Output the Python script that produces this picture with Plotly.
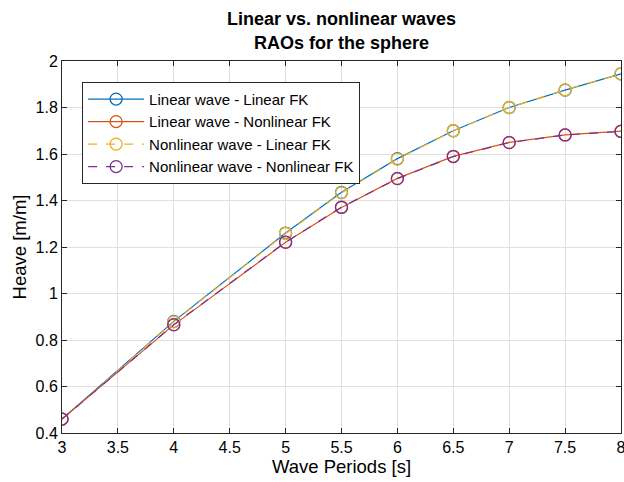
import plotly.graph_objects as go

# Wave periods [s] and heave RAOs [m/m]
periods = [3, 4, 5, 5.5, 6, 6.5, 7, 7.5, 8]
lin_wave_lin_fk = [0.460, 0.880, 1.260, 1.435, 1.580, 1.700, 1.800, 1.875, 1.945]
lin_wave_nl_fk = [0.460, 0.865, 1.220, 1.370, 1.495, 1.590, 1.650, 1.682, 1.698]
nl_wave_lin_fk = [0.460, 0.878, 1.258, 1.433, 1.578, 1.700, 1.800, 1.876, 1.944]
nl_wave_nl_fk = [0.460, 0.866, 1.221, 1.371, 1.494, 1.589, 1.649, 1.682, 1.697]

x_ticks = [3, 3.5, 4, 4.5, 5, 5.5, 6, 6.5, 7, 7.5, 8]
y_ticks = [0.4, 0.6, 0.8, 1, 1.2, 1.4, 1.6, 1.8, 2]

title_lines = ["Linear vs. nonlinear waves", "RAOs for the sphere"]

series = [
    ("Linear wave - Linear FK", lin_wave_lin_fk, "#0072BD", "solid"),
    ("Linear wave - Nonlinear FK", lin_wave_nl_fk, "#D95319", "solid"),
    ("Nonlinear wave - Linear FK", nl_wave_lin_fk, "#EDB120", "dash"),
    ("Nonlinear wave - Nonlinear FK", nl_wave_nl_fk, "#7E2F8E", "dash"),
]

FONT = "Liberation Sans, Arial, sans-serif"
W, H = 624, 482
M_L, M_R, M_T, M_B = 62, 3, 61, 49

fig = go.Figure()
for name, vals, color, dash in series:
    fig.add_trace(go.Scatter(
        x=periods, y=vals, name=name, mode="lines+markers",
        line=dict(color=color, width=1.2, dash=dash),
        marker=dict(symbol="circle-open", size=12, color=color,
                    line=dict(width=1.3, color=color)),
    ))

axis_common = dict(
    showgrid=True, gridcolor="#DFDFDF", gridwidth=1,
    showline=True, linecolor="#262626", linewidth=1, mirror="ticks",
    ticks="inside", ticklen=5, tickcolor="#262626",
    tickfont=dict(family=FONT, size=16, color="#000000"),
    ticklabeloverflow="allow", automargin=False,
    zeroline=False,
)

fig.update_layout(
    width=W, height=H,
    margin=dict(l=M_L, r=M_R, t=M_T, b=M_B),
    paper_bgcolor="white", plot_bgcolor="white",
    xaxis=dict(
        axis_common, range=[3, 8], tickvals=x_ticks,
        ticktext=[f"{t:g}" for t in x_ticks],
        title=dict(text="Wave Periods [s]", standoff=2,
                   font=dict(family=FONT, size=18.5, color="#000000")),
    ),
    yaxis=dict(
        axis_common, range=[0.4, 2], tickvals=y_ticks,
        ticktext=[f"{t:g}" for t in y_ticks],
        title=dict(text="Heave [m/m]", standoff=4,
                   font=dict(family=FONT, size=18.5, color="#000000")),
    ),
    legend=dict(
        x=0.036, y=0.944, xanchor="left", yanchor="top",
        bgcolor="white", bordercolor="#262626", borderwidth=1,
        font=dict(family=FONT, size=15, color="#000000"),
        tracegroupgap=0, itemwidth=56,
    ),
    showlegend=True,
)

# Two-line bold title centred over the axes
for i, line in enumerate(title_lines):
    fig.add_annotation(
        text=f"<b>{line}</b>", xref="paper", yref="paper",
        x=0.5, y=1 + (42 - 24 * i) / (H - M_T - M_B),
        xanchor="center", yanchor="middle", showarrow=False,
        font=dict(family=FONT, size=18, color="#000000"),
    )

fig.write_html("out.html")
